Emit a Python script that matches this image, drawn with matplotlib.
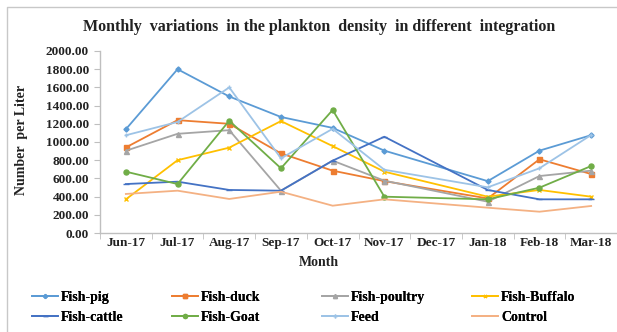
import matplotlib
matplotlib.use("Agg")
import matplotlib.pyplot as plt
from matplotlib.lines import Line2D
import numpy as np

months = ["Jun-17", "Jul-17", "Aug-17", "Sep-17", "Oct-17", "Nov-17",
          "Dec-17", "Jan-18", "Feb-18", "Mar-18"]

# Plankton density (number per liter); Dec-17 was not sampled
fish_pig     = [1140, 1800, 1500, 1275, 1155, 905, None, 570, 905, 1075]
fish_duck    = [940, 1240, 1200, 875, 685, 570, None, 380, 810, 648]
fish_poultry = [904, 1090, 1130, 465, 795, 575, None, 344, 626, 685]
fish_buffalo = [370, 800, 938, 1230, 955, 674, None, 399, 473, 399]
fish_cattle  = [538, 564, 473, 465, 795, 1058, None, 473, 370, 370]
fish_goat    = [674, 538, 1234, 711, 1352, 399, None, 370, 498, 736]
feed         = [1074, 1220, 1600, 821, 1145, 695, None, 502, 711, 1077]
control      = [429, 465, 374, 454, 300, 370, None, 278, 234, 297]

series = [
    ("Fish-pig", fish_pig, "#5B9BD5", "D", 2.6),
    ("Fish-duck", fish_duck, "#ED7D31", "s", 3.6),
    ("Fish-poultry", fish_poultry, "#A5A5A5", "^", 3.6),
    ("Fish-Buffalo", fish_buffalo, "#FFC000", "x", 2.6),
    ("Fish-cattle", fish_cattle, "#4472C4", "_", 4.5),
    ("Fish-Goat", fish_goat, "#70AD47", "o", 3.6),
    ("Feed", feed, "#9DC3E6", "+", 3.5),
    ("Control", control, "#F4B183", "", 0.0),
]

serif = ["Liberation Serif", "DejaVu Serif"]
plt.rcParams["font.family"] = serif
plt.rcParams["font.weight"] = "bold"

W, H = 617, 332
fig = plt.figure(figsize=(W / 100, H / 100), dpi=100)
ax = fig.add_axes([100 / W, 1 - 233 / H, 517 / W, 182 / H])

x = np.arange(len(months))
handles = {}
for name, vals, color, marker, ms in series:
    xs = [i for i, v in zip(x, vals) if v is not None]
    ys = [v for v in vals if v is not None]
    (ln,) = ax.plot(xs, ys, color=color, lw=1.3, marker=marker if marker else None,
                    ms=ms, mew=1.0, mfc=color, mec=color, zorder=3)
    handles[name] = ln

ax.set_xlim(-0.5, len(months) - 0.5)
ax.set_ylim(0, 2000)
ax.set_yticks(np.arange(0, 2001, 200))
ax.set_yticklabels([f"{v:.2f}" for v in np.arange(0, 2001, 200)],
                   fontsize=9.5, fontweight="bold", color="#222222")
ax.set_xticks(x)
ax.set_xticklabels(months, fontsize=9.5, fontweight="bold", color="#222222")
ax.tick_params(axis="x", length=0, pad=3)
ax.set_xticks(np.arange(-0.5, len(months) + 0.5, 1), minor=True)
ax.tick_params(axis="x", which="minor", length=4, color="#BFBFBF", direction="out")
ax.tick_params(axis="y", length=4, color="#BFBFBF", direction="out", pad=4)

for side in ("top", "right"):
    ax.spines[side].set_visible(False)
for side in ("left", "bottom"):
    ax.spines[side].set_color("#BFBFBF")
    ax.spines[side].set_linewidth(1.0)

ax.set_xlabel("Month", fontsize=10, fontweight="bold", color="#222222")
ax.xaxis.set_label_coords((319 - 100) / 517, -(262 - 233) / 182)
ax.set_ylabel("Number  per Liter", fontsize=10, fontweight="bold", color="#222222")
ax.yaxis.set_label_coords((22 - 100) / 517, (233 - 140) / 182)
ax.xaxis.label.set_va("center")
ax.yaxis.label.set_va("center")

fig.text(319 / W, 1 - 27 / H,
         "Monthly  variations  in the plankton  density  in different  integration",
         ha="center", va="center", fontsize=11.5, fontweight="bold", color="#222222")

# legend: four columns, two rows
columns = [("Fish-pig", "Fish-cattle"), ("Fish-duck", "Fish-Goat"),
           ("Fish-poultry", "Feed"), ("Fish-Buffalo", "Control")]
col_x = [32, 172, 322, 472]
for cx, names in zip(col_x, columns):
    leg = fig.legend([handles[n] for n in names], list(names), loc="center left",
                     bbox_to_anchor=(cx / W, 1 - 307.5 / H), frameon=False,
                     prop={"family": serif, "weight": "bold", "size": 10},
                     handlelength=1.9, handletextpad=0.2, labelspacing=0.5,
                     borderpad=0, borderaxespad=0, markerscale=0.8)
    fig.add_artist(leg)

# chart-area border
border = Line2D([7 / W, 7 / W, 1.0], [0.0, 1 - 7 / H, 1 - 7 / H],
                transform=fig.transFigure, color="#C8C8C8", lw=1.0)
fig.add_artist(border)

fig.savefig("out.png", dpi=100)
